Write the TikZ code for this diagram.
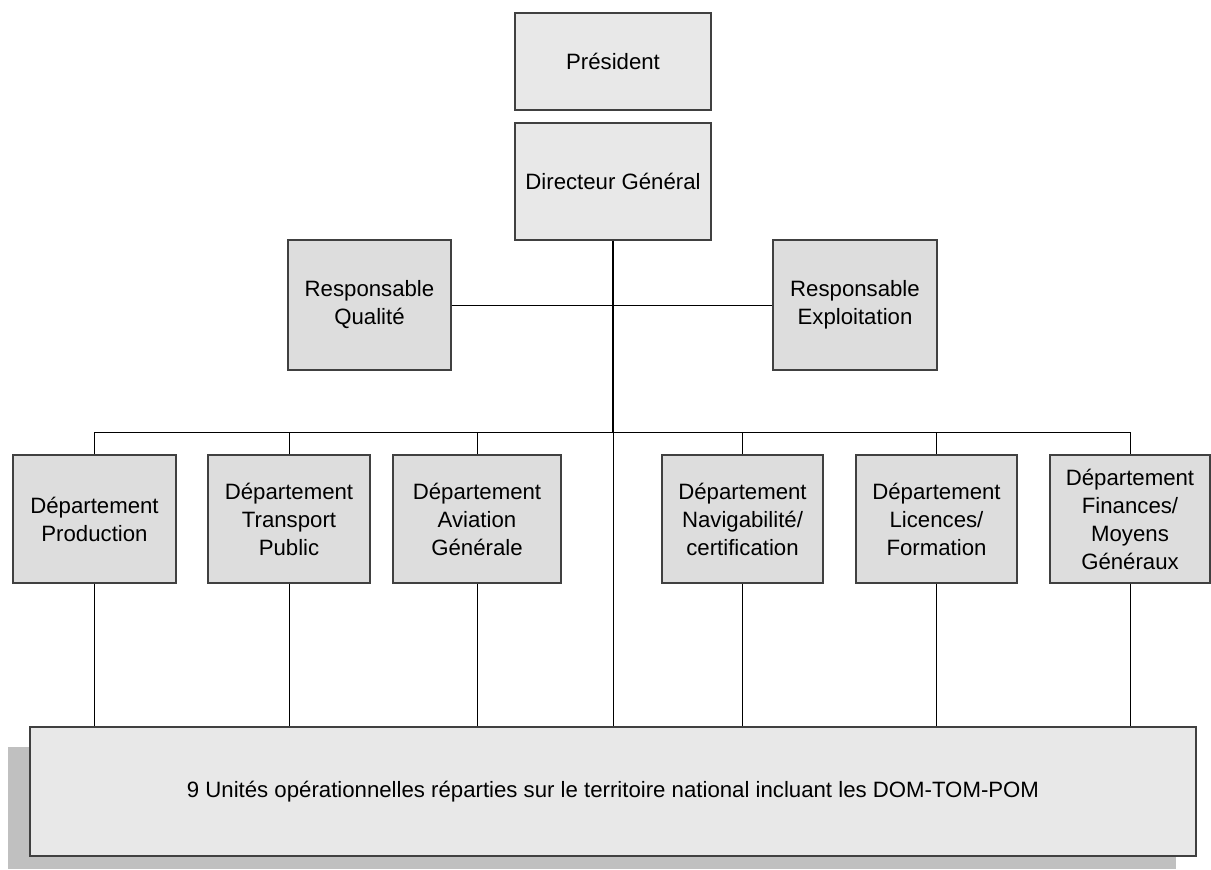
\documentclass[tikz,border=0pt]{standalone}
\usepackage{fontspec}
\setmainfont{Liberation Sans}
\definecolor{boxlight}{HTML}{E8E8E8}
\definecolor{boxdark}{HTML}{DDDDDD}
\definecolor{boxline}{HTML}{404040}
\definecolor{shadowgray}{HTML}{C0C0C0}
\begin{document}
\begin{tikzpicture}[x=0.5pt,y=-0.5pt,
  font=\fontsize{11.1pt}{14pt}\selectfont,
  orgbox/.style={draw=boxline,line width=0.6pt,align=center,inner sep=2pt},
  topbox/.style={orgbox,fill=boxlight,minimum width=98pt,minimum height=48.5pt},
  respbox/.style={orgbox,fill=boxdark,minimum width=81.5pt,minimum height=65pt},
  deptbox/.style={orgbox,fill=boxdark,minimum height=64pt},
  link/.style={line width=0.5pt},
  trunk/.style={line width=1.1pt}]
\useasboundingbox (0,0) rectangle (1211,869);
\node[topbox] (pres) at (613,61.5) {Président};
\node[topbox,minimum height=58.5pt] (dg) at (613,181.5) {Directeur Général};
\node[respbox] (qual) at (369.5,305) {Responsable\\Qualité};
\node[respbox,minimum width=82pt] (expl) at (855,305) {Responsable\\Exploitation};
\node[deptbox,minimum width=81.5pt] (prod) at (94.5,519) {Département\\Production};
\node[deptbox,minimum width=81pt] (tran) at (289,519) {Département\\Transport\\Public};
\node[deptbox,minimum width=84pt] (avia) at (477,519) {Département\\Aviation\\Générale};
\node[deptbox,minimum width=80.5pt] (navi) at (742.5,519) {Département\\Navigabilité/\\certification};
\node[deptbox,minimum width=80.5pt] (lice) at (936.5,519) {Département\\Licences/\\Formation};
\node[deptbox,minimum width=80pt] (fina) at (1130,519) {Département\\Finances/\\Moyens\\Généraux};
% bottom box with its shadow
\fill[shadowgray] (8,747) rectangle (1176,869);
\node[orgbox,fill=boxlight,minimum width=583pt,minimum height=64.5pt] (units) at (613,791.5)
  {9 Unités opérationnelles réparties sur le territoire national incluant les DOM-TOM-POM};
\coordinate (bus) at (613,432);
\draw[link] (qual) -- (expl);
\draw[trunk] (dg.south) -- (bus);
\draw[link] (bus) -- (bus |- units.north);
\draw[link] (prod.north) |- (bus) -| (fina.north);
\foreach \d in {tran,avia,navi,lice}
  \draw[link] (\d.north) -- (\d.north |- bus);
\foreach \d in {prod,tran,avia,navi,lice,fina}
  \draw[link] (\d.south) -- (\d.south |- units.north);
\end{tikzpicture}
\end{document}
